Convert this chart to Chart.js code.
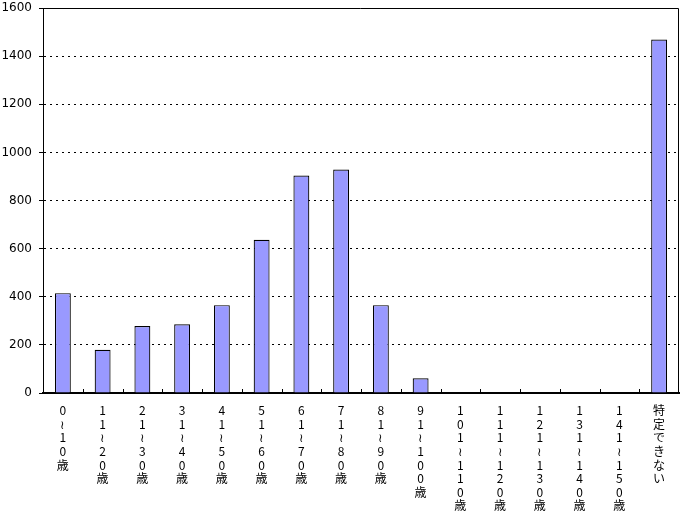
<!DOCTYPE html>
<html>
<head>
<meta charset="utf-8">
<script src="https://cdn.jsdelivr.net/npm/chart.js@4"></script>
<style>
  html, body { margin: 0; padding: 0; background: #fff; }
  #wrap { width: 683px; height: 517px; }
</style>
</head>
<body>
<div id="wrap"><canvas id="myChart" width="683" height="517"></canvas></div>
<script>
// age groups (stacked vertically as in the original)
const categories = [
  "0～10歳", "11～20歳", "21～30歳", "31～40歳", "41～50歳",
  "51～60歳", "61～70歳", "71～80歳", "81～90歳", "91～100歳",
  "101～110歳", "111～120歳", "121～130歳", "131～140歳", "141～150歳",
  "特定できない",
];
const counts = [415, 180, 278, 286, 365, 637, 904, 929, 365, 61, 0, 0, 0, 0, 0, 1469];
const yTicks = [0, 200, 400, 600, 800, 1000, 1200, 1400, 1600];

// one character per line, with the wave dash turned upright
const verticalLabels = categories.map((c) =>
  Array.from(c).map((ch) => (ch === "～" ? "≀" : ch))
);

const ctx = document.getElementById("myChart");

// frame on top/right and small inward ticks on the category axis
const framePlugin = {
  id: "frame",
  afterDatasetsDraw(chart) {
    const { ctx, chartArea: a, scales } = chart;
    ctx.save();
    ctx.strokeStyle = "#000";
    ctx.lineWidth = 1;
    ctx.beginPath();
    ctx.moveTo(a.left, a.top + 0.5);
    ctx.lineTo(a.right - 0.5, a.top + 0.5);
    ctx.lineTo(a.right - 0.5, a.bottom);
    ctx.stroke();
    const x = scales.x;
    ctx.beginPath();
    for (let i = 1; i < categories.length; i++) {
      const px = Math.round((x.getPixelForValue(i - 1) + x.getPixelForValue(i)) / 2) + 0.5;
      ctx.moveTo(px, a.bottom);
      ctx.lineTo(px, a.bottom - 4);
    }
    ctx.stroke();
    ctx.restore();
  },
};

new Chart(ctx, {
  type: "bar",
  data: {
    labels: verticalLabels,
    datasets: [
      {
        data: counts,
        backgroundColor: "#9999ff",
        borderColor: "#000",
        borderWidth: 1.2,
        barPercentage: 0.4,
        categoryPercentage: 1,
      },
    ],
  },
  options: {
    responsive: false,
    animation: false,
    layout: {
      padding: { top: 8, right: 4, left: 0, bottom: 0 },
    },
    plugins: {
      legend: { display: false },
      tooltip: { enabled: false },
    },
    scales: {
      x: {
        grid: { display: false },
        border: { color: "#000", width: 2 },
        ticks: {
          color: "#000",
          autoSkip: false,
          maxRotation: 0,
          minRotation: 0,
          padding: 3,
          font: { family: "'Noto Sans CJK JP', sans-serif", size: 12, lineHeight: 1.13 },
        },
        afterFit(scale) {
          scale.height = 124;
          scale.paddingLeft = 0;
          scale.paddingRight = 0;
        },
      },
      y: {
        min: 0,
        max: 1600,
        afterBuildTicks(scale) {
          scale.ticks = yTicks.map((v) => ({ value: v }));
        },
        grid: {
          color: "#000",
          lineWidth: 1,
          tickLength: 4,
          drawTicks: true,
          tickBorderDash: [],
          tickColor: "#000",
        },
        border: { color: "#000", width: 1, dash: [2, 4] },
        ticks: {
          color: "#000",
          padding: 7,
          font: { family: "'DejaVu Sans', sans-serif", size: 12 },
          callback: (v) => String(v),
        },
        afterFit(scale) {
          scale.width = 43;
          scale.paddingTop = 0;
          scale.paddingBottom = 0;
        },
      },
    },
  },
  plugins: [framePlugin],
});
</script>
</body>
</html>
